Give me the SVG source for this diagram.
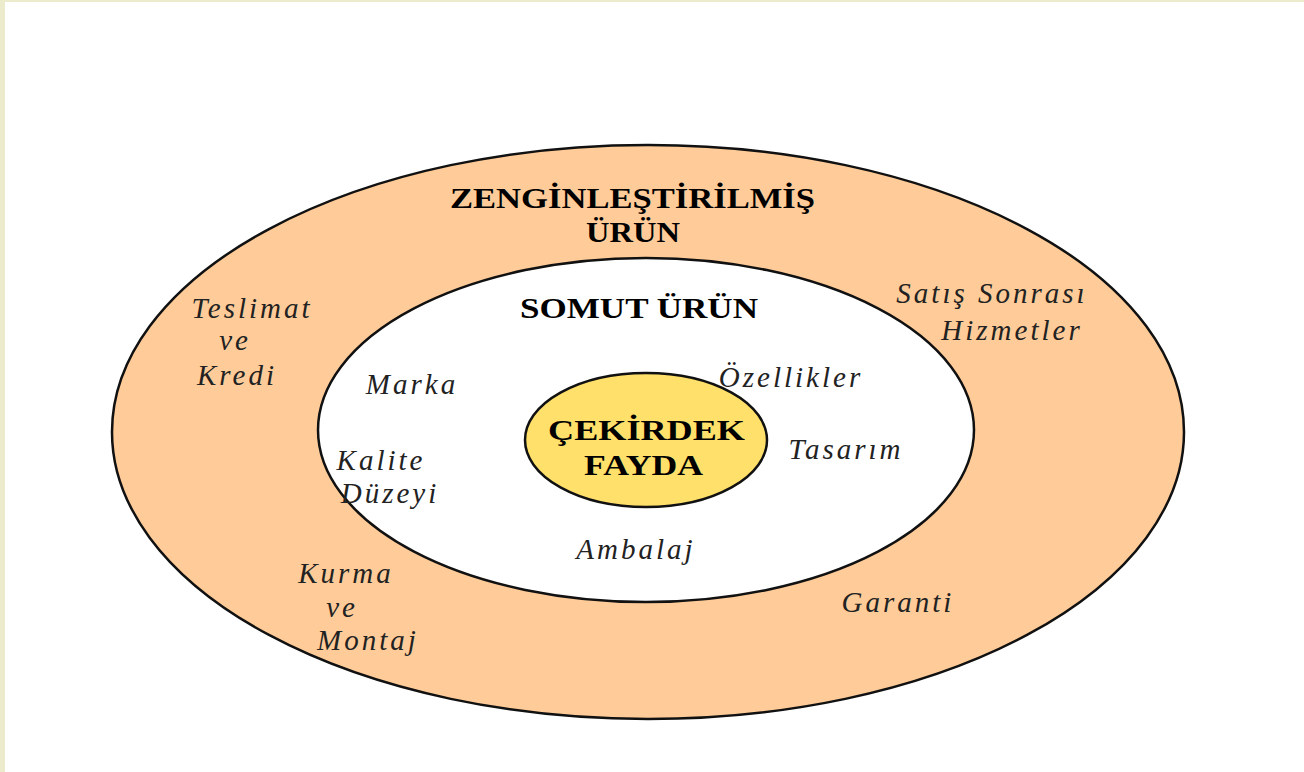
<svg xmlns="http://www.w3.org/2000/svg" width="1304" height="772" viewBox="0 0 1304 772">
<style>
.ring{stroke:#111;stroke-width:2.5}
.t{font-family:"Liberation Serif","Times New Roman",serif;font-weight:bold;fill:#000;text-anchor:start}
.i{font-family:"Liberation Serif","Times New Roman",serif;font-style:italic;fill:#222;text-anchor:middle;font-size:29px;letter-spacing:3px}
</style>
<rect width="1304" height="772" fill="#fff"/>
<rect x="0" y="0" width="1304" height="2" fill="#ecebcb"/>
<rect x="0" y="0" width="5" height="772" fill="#ecebcb"/>
<g id="zenginlestirilmis">
<ellipse class="ring" cx="648" cy="432" rx="536" ry="287" fill="#ffcc99"/>
<text class="t" x="450" y="208" font-size="30" textLength="365" lengthAdjust="spacingAndGlyphs">ZENGİNLEŞTİRİLMİŞ</text>
<text class="t" x="586" y="242" font-size="30" textLength="94" lengthAdjust="spacingAndGlyphs">ÜRÜN</text>
<text class="i" x="252" y="318">Teslimat</text>
<text class="i" x="235" y="350">ve</text>
<text class="i" x="237" y="385">Kredi</text>
<text class="i" x="992" y="303">Satış Sonrası</text>
<text class="i" x="1012" y="340">Hizmetler</text>
<text class="i" x="346" y="583">Kurma</text>
<text class="i" x="342" y="617">ve</text>
<text class="i" x="368" y="650">Montaj</text>
<text class="i" x="898" y="612">Garanti</text>
</g>
<g id="somut">
<ellipse class="ring" cx="646" cy="430" rx="328" ry="172" fill="#fff"/>
<text class="t" x="520" y="318" font-size="29" textLength="238" lengthAdjust="spacingAndGlyphs">SOMUT ÜRÜN</text>
<text class="i" x="412" y="394">Marka</text>
<text class="i" x="791" y="387">Özellikler</text>
<text class="i" x="846" y="459">Tasarım</text>
<text class="i" x="381" y="470">Kalite</text>
<text class="i" x="390" y="503">Düzeyi</text>
<text class="i" x="636" y="559">Ambalaj</text>
</g>
<g id="cekirdek">
<ellipse class="ring" cx="646" cy="440" rx="121" ry="67" fill="#ffe06a"/>
<text class="t" x="548" y="440" font-size="30" textLength="197" lengthAdjust="spacingAndGlyphs">ÇEKİRDEK</text>
<text class="t" x="584" y="475" font-size="30" textLength="119" lengthAdjust="spacingAndGlyphs">FAYDA</text>
</g>
<g id="connectors"/>
</svg>
